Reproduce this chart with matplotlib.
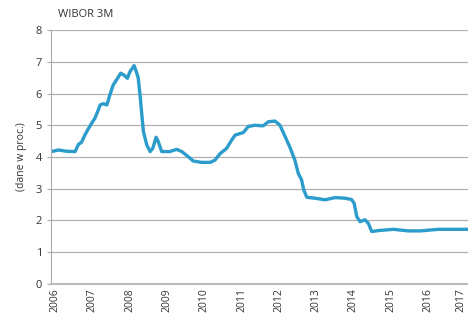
import matplotlib
matplotlib.use("Agg")
import matplotlib.pyplot as plt
import matplotlib.transforms as mtransforms

plt.rcParams['font.family'] = ['Open Sans', 'DejaVu Sans']

# WIBOR 3M, values
years = [2005.9, 2006.1, 2006.3, 2006.54, 2006.63, 2006.71, 2006.8, 2006.89, 2006.98,
         2007.07, 2007.16, 2007.21, 2007.3, 2007.39, 2007.47, 2007.56, 2007.65,
         2007.76, 2007.85, 2007.94, 2008.01, 2008.12, 2008.17, 2008.23, 2008.28,
         2008.32, 2008.37, 2008.46, 2008.55, 2008.62, 2008.71, 2008.77, 2008.86,
         2009.08, 2009.26, 2009.4, 2009.57, 2009.71, 2009.93, 2010.16, 2010.29,
         2010.42, 2010.6, 2010.74, 2010.83, 2011.05, 2011.18, 2011.36, 2011.58,
         2011.72, 2011.9, 2012.03, 2012.17, 2012.3, 2012.43, 2012.52, 2012.61,
         2012.67, 2012.75, 2012.97, 2013.24, 2013.51, 2013.77, 2013.95, 2014.02,
         2014.09, 2014.18, 2014.31, 2014.4, 2014.49, 2014.67, 2015.07, 2015.47,
         2015.79, 2016.28, 2016.7, 2017.1]
wibor = [4.17, 4.22, 4.18, 4.17, 4.4, 4.46, 4.69, 4.88, 5.06,
         5.22, 5.48, 5.64, 5.68, 5.64, 5.95, 6.27, 6.43,
         6.64, 6.58, 6.48, 6.69, 6.88, 6.72, 6.5, 5.95,
         5.43, 4.8, 4.38, 4.17, 4.27, 4.62, 4.48, 4.17,
         4.17, 4.24, 4.17, 4.01, 3.87, 3.83, 3.83, 3.9,
         4.1, 4.27, 4.54, 4.69, 4.77, 4.96, 5.0, 4.98,
         5.11, 5.13, 5.0, 4.64, 4.3, 3.9, 3.49, 3.28,
         2.96, 2.73, 2.7, 2.65, 2.72, 2.7, 2.66, 2.54,
         2.12, 1.96, 2.02, 1.91, 1.65, 1.68, 1.72, 1.67,
         1.67, 1.72, 1.72, 1.72]
year_ticks = list(range(2006, 2018))
y_ticks = list(range(0, 9))

fig = plt.figure(figsize=(4.68, 3.13), dpi=100)
ax = fig.add_axes([0.109, 0.093, 0.891, 0.811])

ax.plot(years, wibor, color='#2b9ccb', linewidth=2.4, solid_joinstyle='round')

ax.set_xlim(2005.893, 2017.072)
ax.set_ylim(0, 8)
ax.set_yticks(y_ticks)
ax.set_xticks(year_ticks)
ax.set_xticklabels([str(y) for y in year_ticks], rotation=90, fontsize=7.5, color='#333333')
ax.tick_params(axis='y', labelsize=8, colors='#333333', length=3, color='#aaaaaa')
ax.tick_params(axis='x', length=0, pad=3)
ax.grid(axis='y', color='#b0b0b0', linewidth=0.9)
ax.set_axisbelow(True)
for s in ['top', 'right']:
    ax.spines[s].set_visible(False)
ax.spines['left'].set_color('#aaaaaa')
ax.spines['bottom'].set_color('#bbbbbb')
ax.spines['bottom'].set_linewidth(1.5)

# keep the last year label inside the picture
last = ax.get_xticklabels()[-1]
last.set_transform(last.get_transform() + mtransforms.ScaledTranslation(-3 / 72, 0, fig.dpi_scale_trans))

ax.set_ylabel('(dane w proc.)', fontsize=7.5, color='#333333', labelpad=6)
fig.text(0.125, 0.955, 'WIBOR 3M', fontsize=8, color='#333333', va='center')

fig.savefig('out.png', dpi=100)
